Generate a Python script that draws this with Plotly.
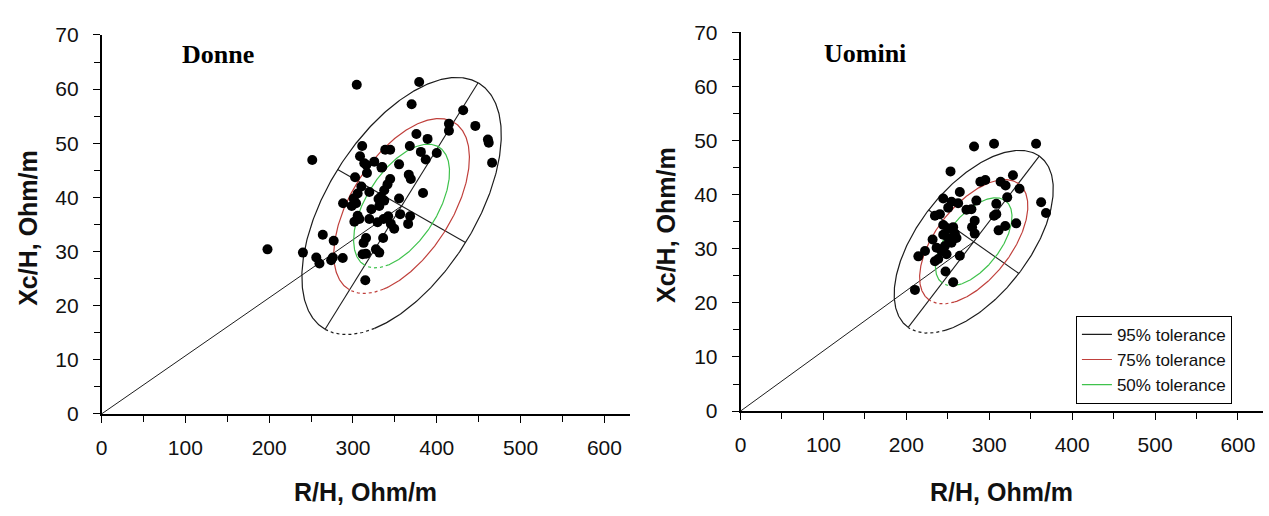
import numpy as np
import plotly.graph_objects as go

# ---- Measured impedance vectors (height-normalised), Ohm/m ----
donne_rh = [304.5, 379.0, 370.0, 431.5, 446.0, 414.5, 414.5, 461.0, 462.0, 466.0,
            375.7, 389.0, 400.0, 381.0, 386.8, 367.8, 338.5, 344.4, 311.0, 251.4,
            308.4, 325.4, 335.0, 316.0, 316.7, 302.5, 355.0, 366.6, 369.0, 383.6,
            344.4, 341.2, 337.3, 333.4, 330.5, 319.5, 305.6, 300.8, 303.7, 288.2,
            298.5, 331.4, 355.0, 337.3, 305.6, 307.6, 301.7, 319.5, 329.3, 336.5,
            342.0, 356.3, 368.2, 365.8, 345.2, 349.2, 315.6, 312.7, 336.0, 264.0,
            277.0, 315.6, 311.5, 327.4, 331.4, 240.3, 198.0, 256.2, 260.0, 274.0,
            276.0, 287.8, 314.7, 313.5, 334.0, 322.0, 310.0]
donne_xch = [60.8, 61.3, 57.2, 56.1, 53.2, 53.6, 52.3, 50.7, 50.1, 46.4,
             51.7, 50.8, 48.2, 48.4, 47.0, 49.5, 48.8, 48.8, 49.5, 46.9,
             47.6, 46.6, 45.6, 46.0, 44.5, 43.7, 46.1, 44.2, 43.4, 40.8,
             43.4, 42.4, 41.3, 40.1, 39.7, 41.0, 40.7, 39.8, 38.9, 38.9,
             38.4, 38.4, 39.8, 39.4, 36.6, 36.0, 35.5, 36.0, 35.4, 36.0,
             36.5, 36.9, 36.5, 35.1, 35.1, 34.2, 32.5, 31.6, 32.5, 33.1,
             32.0, 29.6, 29.5, 30.4, 29.8, 29.8, 30.4, 28.9, 27.8, 28.4,
             28.9, 28.8, 24.7, 46.3, 45.5, 37.8, 42.0]

uomini_rh = [281.7, 305.8, 356.5, 253.3, 289.3, 295.3, 313.7, 319.7, 328.6, 336.5,
             362.6, 368.5, 264.5, 244.5, 254.5, 262.5, 284.5, 321.7, 308.5, 250.5,
             272.5, 278.5, 234.5, 240.5, 305.8, 308.5, 282.5, 332.5, 319.3, 311.3,
             279.3, 282.5, 244.5, 250.5, 256.5, 258.5, 260.5, 254.5, 250.5, 244.5,
             231.7, 236.5, 242.5, 246.5, 248.5, 264.5, 234.5, 238.5, 214.5, 222.5,
             247.3, 256.5, 210.4]
uomini_xch = [48.9, 49.4, 49.4, 44.3, 42.4, 42.7, 42.4, 41.7, 43.6, 41.1,
              38.6, 36.6, 40.5, 39.3, 38.7, 38.4, 38.9, 39.5, 38.3, 37.6,
              37.2, 37.3, 36.1, 36.4, 36.1, 36.4, 35.2, 34.7, 34.2, 33.4,
              34.0, 32.8, 34.4, 33.7, 34.0, 32.8, 32.0, 31.1, 32.0, 32.6,
              31.7, 30.2, 29.6, 30.5, 29.0, 28.7, 27.7, 28.1, 28.6, 29.6,
              25.8, 23.8, 22.4]

# ---- Reference population: mean vector, SDs and R-Xc correlation ----
donne_mean = (358.0, 38.4)
donne_sd = (48.6, 9.7)
donne_r = 0.553
uomini_mean = (281.3, 31.3)
uomini_sd = (39.2, 6.9)
uomini_r = 0.575

tolerance_levels = [95, 75, 50]
tolerance_labels = ["95% tolerance", "75% tolerance", "50% tolerance"]
tolerance_colors = ["#1c1c1c", "#c0403c", "#3fc24c"]

panel_titles = ["Donne", "Uomini"]
x_title = "R/H, Ohm/m"
y_title = "Xc/H, Ohm/m"
x_ticks = [0, 100, 200, 300, 400, 500, 600]
y_ticks = [0, 10, 20, 30, 40, 50, 60, 70]
X_MAX, Y_MAX = 630, 70

# ---- Page geometry (pixels) ----
W, H = 1269, 516
panels = [
    dict(x0=96.0, x1=626.5, ybot=420.7, ytop=24.0),
    dict(x0=738.0, x1=1262.8, ybot=417.7, ytop=21.3),
]


def tolerance_ellipse(mean, sd, r, level, sx, sy, gap=0.6):
    """Ellipse drawn in display space; returns solid arc, dotted arc and axes."""
    k = np.sqrt(-2.0 * np.log(1.0 - level / 100.0))
    cxy = r * sd[0] * sd[1] * sx * sy
    cov = np.array([[(sd[0] * sx) ** 2, cxy], [cxy, (sd[1] * sy) ** 2]])
    vals, vecs = np.linalg.eigh(cov)
    v1 = vecs[:, 1]
    if v1[0] < 0:
        v1 = -v1
    v2 = np.array([v1[1], -v1[0]])
    a = k * np.sqrt(vals[1])
    b = k * np.sqrt(vals[0])

    def pts(t):
        t = np.asarray(t, dtype=float)
        px = a * np.cos(t) * v1[0] + b * np.sin(t) * v2[0]
        py = a * np.cos(t) * v1[1] + b * np.sin(t) * v2[1]
        return mean[0] + px / sx, mean[1] + py / sy

    solid = pts(np.linspace(np.pi, 3 * np.pi - gap, 400))
    dotted = pts(np.linspace(np.pi - gap, np.pi, 60))
    major = pts([np.pi, 0.0])
    minor = pts([np.pi / 2, 3 * np.pi / 2])
    return solid, dotted, major, minor


fig = go.Figure()

groups = [
    (donne_rh, donne_xch, donne_mean, donne_sd, donne_r),
    (uomini_rh, uomini_xch, uomini_mean, uomini_sd, uomini_r),
]

for i, (rh, xch, mean, sd, r) in enumerate(groups):
    p = panels[i]
    xa = "x" if i == 0 else "x2"
    ya = "y" if i == 0 else "y2"
    sx = (p["x1"] - p["x0"]) / X_MAX
    sy = (p["ybot"] - p["ytop"]) / Y_MAX

    # vector from the origin to the mean
    fig.add_trace(go.Scatter(x=[0, mean[0]], y=[0, mean[1]], mode="lines",
                             line=dict(color="#1c1c1c", width=1),
                             xaxis=xa, yaxis=ya, showlegend=False, hoverinfo="skip"))

    for lvl, lab, col in zip(tolerance_levels, tolerance_labels, tolerance_colors):
        solid, dotted, major, minor = tolerance_ellipse(mean, sd, r, lvl, sx, sy)
        fig.add_trace(go.Scatter(x=solid[0], y=solid[1], mode="lines", name=lab,
                                 line=dict(color=col, width=1.2),
                                 xaxis=xa, yaxis=ya, showlegend=(i == 1),
                                 hoverinfo="skip"))
        fig.add_trace(go.Scatter(x=dotted[0], y=dotted[1], mode="lines",
                                 line=dict(color=col, width=1.2, dash="3px,3px"),
                                 xaxis=xa, yaxis=ya, showlegend=False,
                                 hoverinfo="skip"))
        if lvl == 95:
            for seg in (major, minor):
                fig.add_trace(go.Scatter(x=seg[0], y=seg[1], mode="lines",
                                         line=dict(color="#1c1c1c", width=1.1),
                                         xaxis=xa, yaxis=ya, showlegend=False,
                                         hoverinfo="skip"))

    fig.add_trace(go.Scatter(x=rh, y=xch, mode="markers",
                             marker=dict(color="black", size=10),
                             xaxis=xa, yaxis=ya, showlegend=False))

axis_common = dict(
    showline=True, linecolor="black", linewidth=1.5, mirror=False,
    showgrid=False, zeroline=False,
    ticks="outside", ticklen=7, tickwidth=1.2, tickcolor="black",
    tickfont=dict(family="Arial, Liberation Sans", size=21, color="#111"),
    fixedrange=True,
)

layout_axes = {}
for i, p in enumerate(panels):
    xkey = "xaxis" if i == 0 else "xaxis2"
    ykey = "yaxis" if i == 0 else "yaxis2"
    layout_axes[xkey] = dict(
        axis_common,
        domain=[p["x0"] / W, p["x1"] / W],
        range=[0, X_MAX], tickvals=x_ticks, ticklabelstandoff=7,
        minor=dict(dtick=50, tick0=0, ticks="outside", ticklen=6,
                   tickwidth=1.1, tickcolor="black"),
        anchor="y" if i == 0 else "y2",
    )
    layout_axes[ykey] = dict(
        axis_common,
        domain=[1 - p["ybot"] / H, 1 - p["ytop"] / H],
        range=[0, Y_MAX], tickvals=y_ticks, ticklabelstandoff=10,
        minor=dict(dtick=5, tick0=0, ticks="outside", ticklen=6,
                   tickwidth=1.1, tickcolor="black"),
        anchor="x" if i == 0 else "x2",
    )

annotations = []
title_pos = [(175, 44), (820, 43)]
ytitle_pos = [(22, 226), (663, 223)]
for i, p in enumerate(panels):
    tx, ty = title_pos[i]
    annotations.append(dict(
        text="<b>%s</b>" % panel_titles[i], x=tx / W, y=1 - ty / H,
        xref="paper", yref="paper", xanchor="left", yanchor="middle",
        showarrow=False,
        font=dict(family="Liberation Serif, Times New Roman", size=26, color="black")))
    annotations.append(dict(
        text="<b>%s</b>" % x_title, x=(p["x0"] + p["x1"]) / 2 / W, y=1 - 502 / H,
        xref="paper", yref="paper", xanchor="center", yanchor="middle",
        showarrow=False,
        font=dict(family="Arial, Liberation Sans", size=25, color="#111")))
    yx, yy = ytitle_pos[i]
    annotations.append(dict(
        text="<b>%s</b>" % y_title, x=yx / W, y=1 - yy / H, textangle=-90,
        xref="paper", yref="paper", xanchor="center", yanchor="middle",
        showarrow=False,
        font=dict(family="Arial, Liberation Sans", size=25, color="#111")))

fig.update_layout(
    width=W, height=H,
    margin=dict(l=0, r=0, t=0, b=0),
    paper_bgcolor="white", plot_bgcolor="white",
    annotations=annotations,
    legend=dict(
        x=1075 / W, y=1 - 318 / H, xanchor="left", yanchor="top",
        bgcolor="white", bordercolor="black", borderwidth=1,
        font=dict(family="Arial, Liberation Sans", size=17, color="#111"),
        itemwidth=30, tracegroupgap=0,
    ),
    **layout_axes,
)

fig.write_html("out.html")
